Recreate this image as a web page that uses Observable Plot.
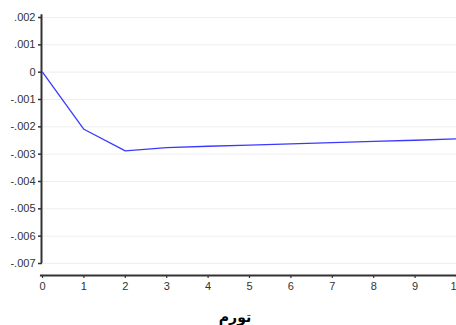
<!DOCTYPE html>
<html>
<head>
<meta charset="utf-8">
<script src="https://cdn.jsdelivr.net/npm/d3@7"></script>
<script src="https://cdn.jsdelivr.net/npm/@observablehq/plot@0.6"></script>
<style>
  html, body { margin: 0; padding: 0; background: #fff; overflow: hidden; width: 456px; height: 325px; }
  #chart { width: 456px; height: 300px; overflow: hidden; }
  #chart svg { display: block; max-width: none !important; overflow: hidden; }
  #title { font-family: "DejaVu Sans", sans-serif; font-weight: bold; font-size: 14px; line-height: 20px; text-align: center; width: 456px; padding-left: 14px; box-sizing: border-box; margin-top: 7px; color: #000; }
</style>
</head>
<body>
<div id="chart"></div>
<div id="title" dir="rtl">تورم</div>
<script>
const periods = [0, 1, 2, 3, 4, 5, 6, 7, 8, 9, 10];
const response = [0, -0.00209, -0.00288, -0.00276, -0.00271, -0.00267, -0.00262, -0.00258, -0.00253, -0.00249, -0.00244];
const yTicks = [0.002, 0.001, 0, -0.001, -0.002, -0.003, -0.004, -0.005, -0.006, -0.007];
const yTickLabels = [".002", ".001", "0", "-.001", "-.002", "-.003", "-.004", "-.005", "-.006", "-.007"];
const xTicks = [0, 1, 2, 3, 4, 5, 6, 7, 8, 9, 10];

const data = periods.map((p, i) => ({period: p, value: response[i]}));
const yLabel = d => yTickLabels[yTicks.findIndex(t => Math.abs(t - d) < 1e-9)];

const chart = Plot.plot({
  width: 456,
  height: 300,
  marginLeft: 42,
  marginRight: 0,
  marginTop: 17,
  marginBottom: 37,
  style: {fontFamily: "'Liberation Sans', Arial, sans-serif", fontSize: "11px", color: "#333", background: "#fff", maxWidth: "none"},
  x: {domain: [0, 10]},
  y: {domain: [-0.007, 0.002]},
  marks: [
    Plot.gridY(yTicks, {stroke: "#eeeeee", strokeOpacity: 1, strokeWidth: 1}),
    Plot.axisY(yTicks, {tickFormat: yLabel, tickSize: 4, tickPadding: 3, stroke: "#333", strokeWidth: 1.5, fill: "#333", label: null}),
    Plot.ruleX([0], {y1: 0.0021, y2: -0.007, stroke: "#333", strokeWidth: 2, dx: -1}),
    Plot.axisX(xTicks, {dy: 12, tickSize: 3, tickPadding: 4, stroke: "#333", strokeWidth: 1.2, fill: "#333", label: null}),
    Plot.ruleY([-0.007], {dy: 12, x1: -0.05, x2: 10.5, stroke: "#333", strokeWidth: 2}),
    Plot.line(data, {x: "period", y: "value", stroke: "#3a3aff", strokeWidth: 1.3})
  ]
});
document.getElementById("chart").appendChild(chart);
</script>
</body>
</html>
